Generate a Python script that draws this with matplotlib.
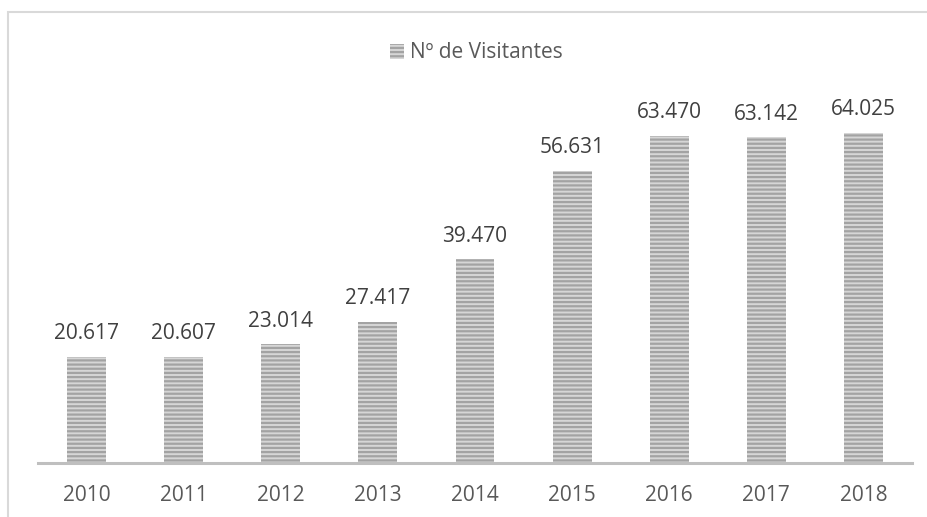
import matplotlib
matplotlib.use("Agg")
import matplotlib.pyplot as plt
from matplotlib.patches import Rectangle

years = ["2010", "2011", "2012", "2013", "2014", "2015", "2016", "2017", "2018"]
visitors = [20617, 20607, 23014, 27417, 39470, 56631, 63470, 63142, 64025]
series_name = "Nº de Visitantes"

plt.rcParams['font.family'] = ['Open Sans', 'DejaVu Sans']
plt.rcParams['hatch.linewidth'] = 1.6

W, H = 928, 517
fig = plt.figure(figsize=(W / 100, H / 100), dpi=100)
ax = fig.add_axes([38 / W, (H - 463) / H, (912 - 38) / W, (463 - 102) / H])

x = list(range(len(years)))
bars = ax.bar(x, visitors, width=0.40, color='#d6d6d6', edgecolor='#a3a3a3',
              linewidth=0, hatch='----', label=series_name, zorder=2)

for xi, v in zip(x, visitors):
    ax.annotate(f"{v:,}".replace(",", "."), xy=(xi, v), xytext=(0, 9),
                textcoords='offset points', ha='center', va='bottom',
                fontsize=15, color='#404040')

ax.set_xlim(-0.5, len(years) - 0.5)
ax.set_ylim(0, 70000)
ax.set_xticks(x)
ax.set_xticklabels(years, fontsize=15, color='#595959')
ax.tick_params(axis='x', length=0, pad=16)
ax.set_yticks([])
for s in ['top', 'right', 'left']:
    ax.spines[s].set_visible(False)
ax.spines['bottom'].set_color('#bfbfbf')
ax.spines['bottom'].set_linewidth(2.2)
ax.spines['bottom'].set_zorder(3)

leg = fig.legend(handles=[bars], labels=[series_name], loc='center',
                 bbox_to_anchor=(476 / W, 1 - 53 / H), frameon=False,
                 fontsize=15, handlelength=0.7, handleheight=0.7,
                 handletextpad=0.25, labelcolor='#595959')

fig.patches.append(Rectangle((8 / W, -0.1), 1.2, 1 - 12 / H + 0.1,
                             transform=fig.transFigure, fill=False,
                             edgecolor='#d9d9d9', linewidth=1.5))

fig.savefig("out.png", dpi=100, facecolor='white')
